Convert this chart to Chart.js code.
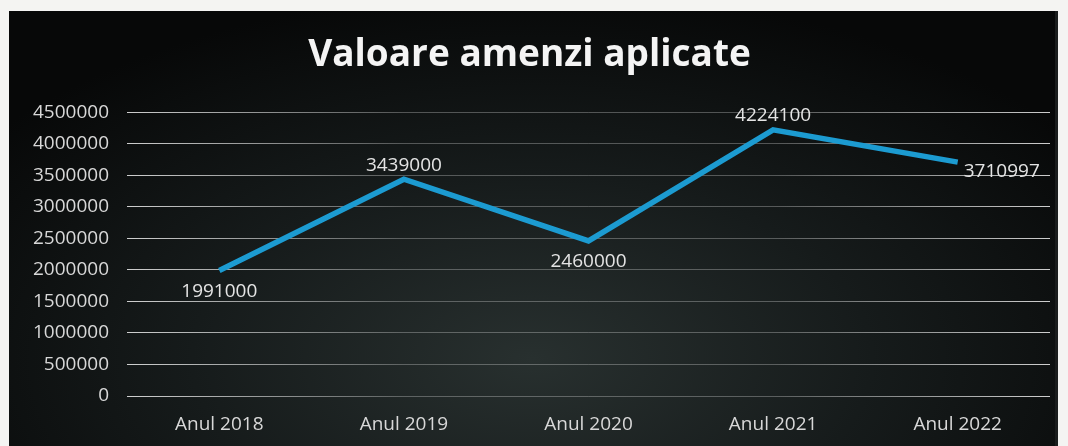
<!DOCTYPE html>
<html>
<head>
<meta charset="utf-8">
<script src="https://cdn.jsdelivr.net/npm/chart.js@4"></script>
<style>
    html, body { margin: 0; padding: 0; background: #f4f4f2; }
    #wrap {
        position: absolute;
        left: 9px; top: 11px;
        width: 1046px; height: 435px;
        background: radial-gradient(ellipse 65% 85% at 50% 80%, #28302f 0%, #161b1b 50%, #070808 100%);
        border-right: 3px solid #1a1d1d;
    }
    #chart { display: block; }
</style>
</head>
<body>
<div id="wrap"><canvas id="chart" width="1046" height="435"></canvas></div>
<script>
const years = ['Anul 2018', 'Anul 2019', 'Anul 2020', 'Anul 2021', 'Anul 2022'];
const amounts = [1991000, 3439000, 2460000, 4224100, 3710997];
const labelSides = ['below', 'above', 'below', 'above', 'right'];

const chartTitle = 'Valoare amenzi aplicate';

// draws the value next to each point, like the data labels in the original
const valueLabels = {
    id: 'valueLabels',
    afterDatasetsDraw(chart) {
        const ctx = chart.ctx;
        const meta = chart.getDatasetMeta(0);
        ctx.save();
        ctx.font = '19px "Open Sans", sans-serif';
        ctx.fillStyle = '#e4e4e4';
        ctx.textBaseline = 'middle';
        meta.data.forEach(function(pt, i) {
            const text = String(amounts[i]);
            const side = labelSides[i];
            if (side === 'right') {
                ctx.textAlign = 'left';
                ctx.fillText(text, pt.x + 6, pt.y + 9);
            } else if (side === 'above') {
                ctx.textAlign = 'center';
                ctx.fillText(text, pt.x, pt.y - 14);
            } else {
                ctx.textAlign = 'center';
                ctx.fillText(text, pt.x, pt.y + 21);
            }
        });
        ctx.restore();
    }
};

function gridColor(context) {
    const area = context.chart.chartArea;
    if (!area) return 'rgba(255,255,255,0.4)';
    const g = context.chart.ctx.createLinearGradient(area.left, 0, area.right, 0);
    g.addColorStop(0, 'rgba(255,255,255,0.8)');
    g.addColorStop(0.3, 'rgba(255,255,255,0.28)');
    g.addColorStop(0.7, 'rgba(255,255,255,0.28)');
    g.addColorStop(1, 'rgba(255,255,255,0.8)');
    return g;
}

new Chart(document.getElementById('chart'), {
    type: 'line',
    data: {
        labels: years,
        datasets: [{
            data: amounts,
            borderColor: '#1c9bd1',
            borderWidth: 5.5,
            pointRadius: 0,
            tension: 0,
            fill: false
        }]
    },
    options: {
        responsive: false,
        animation: false,
        layout: { padding: { left: 0, right: 5, top: 0, bottom: 9 } },
        scales: {
            x: {
                offset: true,
                afterFit: function(scale) { scale.height = 41; },
                grid: { display: false, drawTicks: false },
                border: { display: false },
                ticks: {
                    color: '#d8d8d8',
                    padding: 17,
                    font: { family: '"Open Sans", sans-serif', size: 19 }
                }
            },
            y: {
                min: 0,
                max: 4500000,
                afterFit: function(scale) { scale.width = 118; },
                grid: { color: gridColor, lineWidth: 1, drawTicks: false },
                border: { display: false },
                ticks: {
                    stepSize: 500000,
                    color: '#d8d8d8',
                    padding: 18,
                    font: { family: '"Open Sans", sans-serif', size: 19 },
                    callback: function(value) { return String(value); }
                }
            }
        },
        plugins: {
            legend: { display: false },
            tooltip: { enabled: false },
            title: {
                display: true,
                text: chartTitle,
                color: '#f4f4f4',
                padding: { top: 22, bottom: 35 },
                font: { family: '"Open Sans", sans-serif', size: 37, weight: 'bold' }
            }
        }
    },
    plugins: [valueLabels]
});
</script>
</body>
</html>
